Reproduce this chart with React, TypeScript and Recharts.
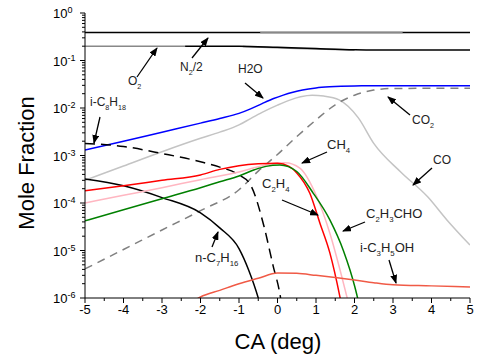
import React from "react";
import { LineChart, Line, XAxis, YAxis } from "recharts";

// mole fraction vs crank angle (x in deg, y mole fraction)
type Pt = [number, number];

const N2_HALF: Pt[] = [[-5, 0.39], [5, 0.39]];
const N2_HALF_GRAY: Pt[] = [[-0.45, 0.388], [3.25, 0.388]];
const O2_GRAY_A: Pt[] = [[-5, 0.2], [-2.4, 0.2]];
const O2_GRAY_B: Pt[] = [[-0.9, 0.196], [0, 0.185], [1, 0.174], [2, 0.166]];
const O2: Pt[] = [[-2.4, 0.2], [-1, 0.2], [0, 0.19], [1, 0.178], [2, 0.168], [2.5, 0.166], [5, 0.166]];

const H2O: Pt[] = [
  [-5, 1.3e-3], [-4, 2.0e-3], [-3, 3.1e-3], [-2, 4.8e-3], [-1.5, 6.0e-3], [-1, 7.7e-3],
  [-0.7, 9.6e-3], [-0.4, 0.0124], [-0.1, 0.0158], [0.15, 0.0187], [0.4, 0.0215],
  [0.65, 0.024], [1, 0.0265], [1.35, 0.028], [2, 0.0292], [3, 0.0295], [5, 0.0295],
];
const CO: Pt[] = [
  [-5, 3e-4], [-4, 6e-4], [-3, 1.2e-3], [-2, 2.3e-3], [-1.5, 3.1e-3], [-1, 4.4e-3],
  [-0.7, 6e-3], [-0.4, 8.1e-3], [0, 0.0115], [0.3, 0.0145], [0.6, 0.0172], [0.9, 0.0185],
  [1.2, 0.0178], [1.6, 0.0148], [2.1, 6.2e-3], [2.5, 1.8e-3], [3.2, 4.5e-4],
  [3.9, 1.35e-4], [4.4, 4.4e-5], [5, 1.3e-5],
];
const CO2: Pt[] = [
  [-5, 4.1e-6], [-4, 1.05e-5], [-3, 2.7e-5], [-2, 6.9e-5], [-1, 1.9e-4], [-0.5, 4.7e-4],
  [0, 1.05e-3], [0.5, 2.5e-3], [1, 5.6e-3], [1.5, 0.0117], [2, 0.0186], [2.5, 0.0238],
  [3, 0.0258], [5, 0.026],
];
const IC8H18: Pt[] = [
  [-5, 1.8e-3], [-4, 1.55e-3], [-3, 1.1e-3], [-2, 7.4e-4], [-1.5, 5.7e-4], [-1, 3.9e-4],
  [-0.7, 2.4e-4], [-0.35, 3.2e-5], [-0.12, 5e-6], [0.08, 1e-6], [0.15, 4e-7],
];
const NC7H16: Pt[] = [
  [-5, 3.2e-4], [-4, 2.3e-4], [-3, 1.3e-4], [-2, 6.2e-5], [-1.5, 3e-5], [-1, 1.1e-5],
  [-0.75, 3.9e-6], [-0.5, 1e-6], [-0.4, 5e-7],
];
const CH4: Pt[] = [
  [-5, 1e-4], [-4, 1.45e-4], [-3, 2.1e-4], [-2, 3.1e-4], [-1, 4.5e-4], [-0.5, 5.8e-4],
  [-0.1, 6.8e-4], [0.2, 7e-4], [0.58, 5.4e-4], [1.02, 1.35e-4], [1.36, 2.3e-5],
  [1.67, 2.8e-6], [1.81, 1e-6], [1.9, 5e-7],
];
const C2H4: Pt[] = [
  [-5, 1.8e-4], [-4, 2.3e-4], [-3, 3e-4], [-2, 3.9e-4], [-1.5, 5.1e-4], [-1, 6.1e-4],
  [-0.5, 6.7e-4], [0, 6.9e-4], [0.3, 5.9e-4], [0.5, 4.3e-4], [0.84, 1.6e-4], [1.1, 3.8e-5],
  [1.36, 8.9e-6], [1.62, 1.07e-6], [1.7, 5e-7],
];
const C2H3CHO: Pt[] = [
  [-5, 4.2e-5], [-4, 7.2e-5], [-3, 1.23e-4], [-2, 2.1e-4], [-1.5, 2.8e-4], [-1, 3.7e-4],
  [-0.6, 5e-4], [-0.3, 5.9e-4], [0.06, 6.3e-4], [0.5, 4.6e-4], [0.93, 1.6e-4],
  [1.36, 4.4e-5], [1.71, 1e-5], [2.01, 1.7e-6], [2.08, 1e-6], [2.15, 5e-7],
];
const IC3H5OH: Pt[] = [
  [-2.2, 8.5e-7], [-2, 1.05e-6], [-1.5, 1.45e-6], [-1, 2e-6], [-0.5, 2.6e-6], [0, 3.35e-6],
  [0.5, 3.3e-6], [1, 3e-6], [1.5, 2.7e-6], [2, 2.4e-6], [2.5, 2.1e-6], [3, 1.9e-6],
  [4, 1.8e-6], [5, 1.7e-6],
];

const xTicks = [-5, -4.5, -4, -3.5, -3, -2.5, -2, -1.5, -1, -0.5, 0, 0.5, 1, 1.5, 2, 2.5, 3, 3.5, 4, 4.5, 5];
const yDecades = [1e-6, 1e-5, 1e-4, 1e-3, 1e-2, 1e-1];
const yMinor = [2, 3, 4, 5, 6, 7, 8, 9];
const yTicks = [...yDecades.flatMap((d) => [d, ...yMinor.map((m) => m * d)]), 1];

// draw order = paint order
const series = [
  { id: "n2", pts: N2_HALF, color: "#000", dash: undefined },
  { id: "n2g", pts: N2_HALF_GRAY, color: "#888", dash: undefined },
  { id: "o2a", pts: O2_GRAY_A, color: "#888", dash: undefined },
  { id: "o2b", pts: O2_GRAY_B, color: "#888", dash: undefined },
  { id: "o2", pts: O2, color: "#000", dash: undefined },
  { id: "co", pts: CO, color: "#c4c4c4", dash: undefined },
  { id: "co2", pts: CO2, color: "#808080", dash: "8 6" },
  { id: "h2o", pts: H2O, color: "#0000ff", dash: undefined },
  { id: "ic8", pts: IC8H18, color: "#000", dash: "10 6" },
  { id: "nc7", pts: NC7H16, color: "#000", dash: undefined },
  { id: "ch4", pts: CH4, color: "#ffb6c1", dash: undefined },
  { id: "c2h4", pts: C2H4, color: "#ff0000", dash: undefined },
  { id: "acro", pts: C2H3CHO, color: "#008000", dash: undefined },
  { id: "ic3", pts: IC3H5OH, color: "#f05a46", dash: undefined },
];

// annotation labels: text (with _n subscripts), label pos, arrow tail -> head
const notes = [
  { s: "O_2", x: 128, y: 85, size: 12, arrow: [137, 77, 157, 48] },
  { s: "N_2/2", x: 180, y: 71, size: 12, arrow: [192, 58, 208, 38] },
  { s: "H2O", x: 238, y: 73, size: 12, arrow: [245, 83, 263, 98] },
  { s: "i-C_8H_18", x: 90, y: 106, size: 12, arrow: [100, 117, 94, 143] },
  { s: "CO_2", x: 412, y: 124, size: 12, arrow: [410, 115, 388, 97] },
  { s: "CH_4", x: 327, y: 149, size: 13, arrow: [327, 152, 302, 163] },
  { s: "CO", x: 433, y: 164, size: 12, arrow: [432, 168, 413, 185] },
  { s: "C_2H_4", x: 262, y: 188, size: 13, arrow: [282, 200, 318, 215] },
  { s: "C_2H_3CHO", x: 366, y: 218, size: 13, arrow: [365, 222, 343, 231] },
  { s: "i-C_3H_5OH", x: 360, y: 252, size: 13, arrow: [389, 260, 396, 283] },
  { s: "n-C_7H_16", x: 195, y: 262, size: 13, arrow: [212, 247, 218, 232] },
];

const FONT = "Arial, 'Liberation Sans', sans-serif";

const rows = (pts: Pt[]) => pts.map(([x, y]) => ({ x, y }));

const XTick = ({ x, y, payload }: any) => {
  const v = payload.value;
  const major = Number.isInteger(v);
  return (
    <g>
      <line x1={x} x2={x} y1={y} y2={y + (major ? 5 : 3)} stroke="#000" />
      {major && (
        <text x={x} y={y + 16} textAnchor="middle" fontSize={13} fontFamily={FONT} fill="#000">
          {v}
        </text>
      )}
    </g>
  );
};

const TopTick = ({ x, y, payload }: any) => {
  const major = Number.isInteger(payload.value);
  return <line x1={x} x2={x} y1={y} y2={y - (major ? 5 : 3)} stroke="#000" />;
};

const YTick = ({ x, y, payload }: any) => {
  const v = payload.value;
  const e = Math.round(Math.log10(v));
  const major = Math.abs(v / Math.pow(10, e) - 1) < 1e-6;
  return (
    <g>
      <line x1={x - (major ? 5 : 3)} x2={x} y1={y} y2={y} stroke="#000" />
      {major && (
        <text x={x - 32} y={y + 5} fontSize={13} fontFamily={FONT} fill="#000">
          10
          <tspan dy={-5} fontSize={9}>
            {e}
          </tspan>
        </text>
      )}
    </g>
  );
};

const Rich = ({ s, x, y, size }: { s: string; x: number; y: number; size: number }) => {
  const parts = s.split(/(_[0-9]+)/).filter(Boolean);
  return (
    <text x={x} y={y} fontSize={size} fontFamily={FONT} fill="#222">
      {parts.map((p, i) => {
        const sub = p.startsWith("_");
        const prevSub = i > 0 && parts[i - 1].startsWith("_");
        return sub ? (
          <tspan key={i} dy={4} fontSize={size * 0.6}>
            {p.slice(1)}
          </tspan>
        ) : (
          <tspan key={i} dy={prevSub ? -4 : 0}>
            {p}
          </tspan>
        );
      })}
    </text>
  );
};

export default function App() {
  return (
    <div style={{ position: "absolute", left: 0, top: 0, width: 478, height: 356, background: "#fff" }}>
      <LineChart width={478} height={356} margin={{ top: 13, right: 8, bottom: 0, left: 0 }}>
        <XAxis
          dataKey="x"
          type="number"
          domain={[-5, 5]}
          ticks={xTicks}
          interval={0}
          allowDataOverflow
          height={58}
          tickLine={false}
          tickSize={0}
          tickMargin={0}
          tick={<XTick />}
          axisLine={{ stroke: "#000" }}
        />
        <XAxis
          xAxisId="top"
          orientation="top"
          dataKey="x"
          type="number"
          domain={[-5, 5]}
          ticks={xTicks}
          interval={0}
          height={0}
          tickLine={false}
          tickSize={0}
          tickMargin={0}
          tick={<TopTick />}
          axisLine={{ stroke: "#000" }}
        />
        <YAxis
          type="number"
          scale="log"
          domain={[1e-6, 1]}
          ticks={yTicks}
          interval={0}
          allowDataOverflow
          width={85}
          tickLine={false}
          tickSize={0}
          tickMargin={0}
          tick={<YTick />}
          axisLine={{ stroke: "#000" }}
        />
        <YAxis
          yAxisId="right"
          orientation="right"
          type="number"
          domain={[0, 1]}
          width={0}
          tick={false}
          tickLine={false}
          axisLine={{ stroke: "#000" }}
        />
        {series.map((s) => (
          <Line
            key={s.id}
            data={rows(s.pts)}
            dataKey="y"
            type="monotone"
            stroke={s.color}
            strokeWidth={1.5}
            strokeDasharray={s.dash}
            dot={false}
            activeDot={false}
            isAnimationActive={false}
          />
        ))}
      </LineChart>
      <svg
        width={478}
        height={356}
        style={{ position: "absolute", left: 0, top: 0, pointerEvents: "none" }}
      >
        <defs>
          <marker id="head" markerUnits="userSpaceOnUse" markerWidth={9} markerHeight={7} refX={8} refY={3.5} orient="auto">
            <path d="M0,0 L9,3.5 L0,7 Z" fill="#000" />
          </marker>
        </defs>
        {notes.map((n, i) => (
          <g key={i}>
            <line
              x1={n.arrow[0]}
              y1={n.arrow[1]}
              x2={n.arrow[2]}
              y2={n.arrow[3]}
              stroke="#000"
              strokeWidth={1.3}
              markerEnd="url(#head)"
            />
            <Rich s={n.s} x={n.x} y={n.y} size={n.size} />
          </g>
        ))}
        <text x={278} y={349} textAnchor="middle" fontSize={22} fontFamily={FONT} fill="#000">
          CA (deg)
        </text>
        <text
          x={34}
          y={163}
          textAnchor="middle"
          fontSize={22}
          fontFamily={FONT}
          fill="#000"
          transform="rotate(-90 34 163)"
        >
          Mole Fraction
        </text>
      </svg>
    </div>
  );
}
